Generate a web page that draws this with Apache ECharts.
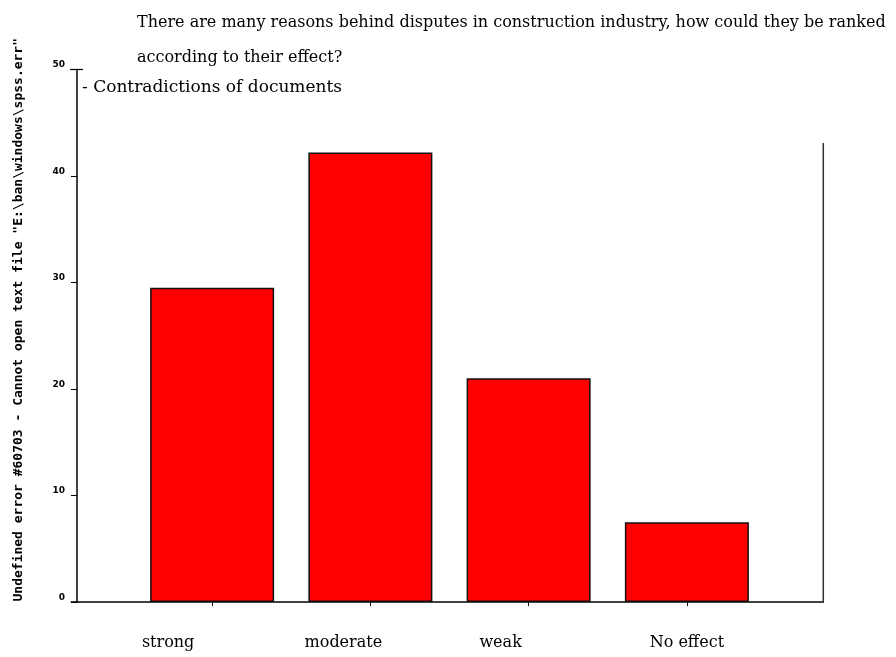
<!DOCTYPE html>
<html>
<head>
<meta charset="utf-8">
<script src="https://cdn.jsdelivr.net/npm/echarts@6/dist/echarts.min.js"></script>
<style>html,body{margin:0;padding:0;background:#fff}#c{width:896px;height:657px}</style>
</head>
<body>
<div id="c"></div>
<script>
var categories = ['strong', 'moderate', 'weak', 'No effect'];
var values = [29.5, 42.2, 21.0, 7.5];
var yTicks = { min: 0, max: 50, interval: 10 };
var titleText = 'There are many reasons behind disputes in construction industry, how could they be ranked\naccording to their effect?';
var subTitleText = '- Contradictions of documents';
var yName = 'Undefined error #60703 - Cannot open text file "E:\\ban\\windows\\spss.err"';

var labelShift = [88, 54, 56, 0];
var rich = {};
labelShift.forEach(function (s, i) {
  rich['l' + i] = { fontFamily: 'DejaVu Serif', fontSize: 16, color: '#000', padding: [0, s, 0, 0] };
});

var chart = echarts.init(document.getElementById('c'), null, { renderer: 'canvas' });
chart.setOption({
  backgroundColor: '#fff',
  animation: false,
  title: [
    { text: titleText, left: 137, top: 5, padding: 0, textStyle: { fontFamily: 'DejaVu Serif', fontSize: 16, fontWeight: 'normal', color: '#000', lineHeight: 35 } },
    { text: subTitleText, left: 82, top: 79, padding: 0, textStyle: { fontFamily: 'DejaVu Serif', fontSize: 17, fontWeight: 'normal', color: '#000' } }
  ],
  grid: { left: 133, right: 130, top: 69.5, bottom: 55, containLabel: false },
  xAxis: {
    type: 'category',
    data: categories,
    axisLine: { show: false },
    axisTick: { show: true, alignWithLabel: true, length: 4, lineStyle: { color: '#000' } },
    axisLabel: {
      margin: 33,
      formatter: function (v, i) { return '{l' + i + '|' + v + '}'; },
      rich: rich
    }
  },
  yAxis: {
    type: 'value',
    min: yTicks.min, max: yTicks.max, interval: yTicks.interval,
    offset: 56,
    splitLine: { show: false },
    axisLine: { show: true, lineStyle: { color: '#000', width: 1.5 } },
    axisTick: { show: true, length: 6, lineStyle: { color: '#000' } },
    axisLabel: { margin: 12, fontFamily: 'DejaVu Sans', fontSize: 9, fontWeight: 'bold', color: '#000', verticalAlign: 'bottom' },
    name: yName,
    nameLocation: 'middle',
    nameGap: 52,
    nameTextStyle: { fontFamily: 'DejaVu Sans Mono', fontSize: 13, fontWeight: 'bold', color: '#000', padding: [0, 0, 0, 32] }
  },
  series: [{
    type: 'bar',
    data: values,
    barWidth: 124,
    itemStyle: { color: '#ff0000', borderColor: '#111', borderWidth: 1.5 }
  }],
  graphic: [
    { type: 'line', shape: { x1: 70.7, y1: 602, x2: 824, y2: 602 }, style: { stroke: '#000', lineWidth: 1.5 } },
    { type: 'line', shape: { x1: 823.3, y1: 143, x2: 823.3, y2: 602 }, style: { stroke: '#333', lineWidth: 1.5 } },
    { type: 'line', shape: { x1: 70, y1: 69.5, x2: 83, y2: 69.5 }, style: { stroke: '#000', lineWidth: 1.2 } }
  ]
});
</script>
</body>
</html>
